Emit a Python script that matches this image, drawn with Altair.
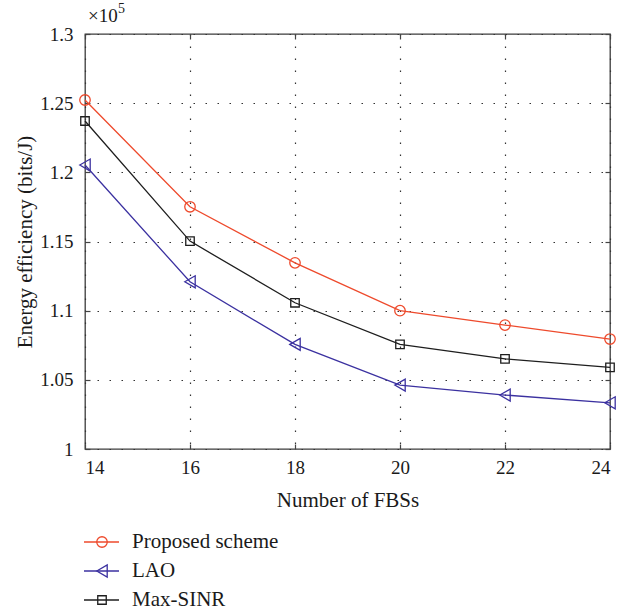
import altair as alt
import pandas as pd

# Energy efficiency (bits/J) versus the number of femto base stations
fbs_counts = [14, 16, 18, 20, 22, 24]
proposed_scheme = [125230, 117510, 113460, 110000, 108960, 107950]
lao = [120530, 112090, 107560, 104620, 103900, 103340]
max_sinr = [123710, 115030, 110570, 107560, 106520, 105900]

series_names = ["Proposed scheme", "LAO", "Max-SINR"]
series_colors = ["#ee4a2c", "#3b31a0", "#1e1e1e"]
series_shapes = ["circle", "triangle-left", "square"]
marker_sizes = [110, 144, 72]

x_ticks = [14, 16, 18, 20, 22, 24]
y_ticks = [100000, 105000, 110000, 115000, 120000, 125000, 130000]
y_exponent = 5

FONT = "'Liberation Serif', 'Times New Roman', Times, serif"
INK = "#1a1a1a"
W, H = 525, 415

rows = []
for name, values in zip(series_names, [proposed_scheme, lao, max_sinr]):
    for n, v in zip(fbs_counts, values):
        rows.append({"fbs": n, "ee": v, "series": name})
df = pd.DataFrame(rows)

color_enc = alt.Color("series:N", scale=alt.Scale(domain=series_names, range=series_colors), legend=None)
shape_enc = alt.Shape("series:N", scale=alt.Scale(domain=series_names, range=series_shapes), legend=None)
size_enc = alt.Size("series:N", scale=alt.Scale(type="ordinal", domain=series_names, range=marker_sizes), legend=None)

x_scale = alt.Scale(domain=[14, 24], nice=False, zero=False)
y_scale = alt.Scale(domain=[100000, 130000], nice=False, zero=False)

inward = {"expr": "-5"}
common_axis = dict(
    domain=False,
    tickSize=inward,
    tickColor="#444444",
    tickWidth=1.2,
    labelFont=FONT,
    labelFontSize=19,
    labelColor=INK,
    titleFont=FONT,
    titleFontSize=21,
    titleFontWeight="normal",
    titleColor=INK,
)
grid_style = dict(grid=True, gridDash=[1.5, 10.5], gridColor="#333333", gridWidth=1.2, gridOpacity=1)

x_bottom = alt.Axis(orient="bottom", values=x_ticks, title="Number of FBSs",
                    labelPadding=14, titlePadding=12, **grid_style, **common_axis)
y_left = alt.Axis(orient="left", values=y_ticks, title="Energy efficiency (bits/J)",
                  labelExpr="datum.value / 100000", labelPadding=17, titlePadding=4,
                  **grid_style, **common_axis)
x_top = alt.Axis(orient="top", values=x_ticks, title=None, labels=False, grid=False, **common_axis)
y_right = alt.Axis(orient="right", values=y_ticks, title=None, labels=False, grid=False, **common_axis)

base = alt.Chart(df)
lines = base.mark_line(strokeWidth=1.3).encode(
    x=alt.X("fbs:Q", scale=x_scale, axis=x_bottom),
    y=alt.Y("ee:Q", scale=y_scale, axis=y_left),
    color=color_enc,
    detail="series:N",
)
markers = base.mark_point(filled=False, strokeWidth=1.3, opacity=1).encode(
    x=alt.X("fbs:Q", scale=x_scale, axis=x_top),
    y=alt.Y("ee:Q", scale=y_scale, axis=y_right),
    color=color_enc,
    shape=shape_enc,
    size=size_enc,
)
plot = alt.layer(lines, markers)

# Legend below the axes: line stub, marker and name for each series
legend_df = pd.DataFrame({"series": series_names})
legend_y = alt.Y("series:N", scale=alt.Scale(type="point", domain=series_names, range=[508, 566], padding=0), axis=None)
leg_base = alt.Chart(legend_df)
leg_lines = leg_base.mark_rule(strokeWidth=1.3).encode(
    x=alt.value(-1), x2=alt.value(34), y=legend_y, color=color_enc)
leg_marks = leg_base.mark_point(filled=False, strokeWidth=1.3, opacity=1).encode(
    x=alt.value(17), y=legend_y, color=color_enc, shape=shape_enc, size=size_enc)
leg_text = leg_base.mark_text(align="left", baseline="middle", font=FONT, fontSize=21, color=INK).encode(
    x=alt.value(47), y=legend_y, text="series:N")
legend = alt.layer(leg_lines, leg_marks, leg_text)

# Axis multiplier above the y axis
mult_df = pd.DataFrame({"base": ["\u00d710"], "exp": [str(y_exponent)]})
mult_base = alt.Chart(mult_df).mark_text(align="left", baseline="alphabetic", font=FONT, fontSize=19, color=INK).encode(
    x=alt.value(3), y=alt.value(-12), text="base:N")
mult_exp = alt.Chart(mult_df).mark_text(align="left", baseline="alphabetic", font=FONT, fontSize=14, color=INK).encode(
    x=alt.value(33), y=alt.value(-21), text="exp:N")

chart = alt.layer(plot, legend, mult_base, mult_exp).resolve_scale(y="independent").properties(
    width=W,
    height=H,
    autosize=alt.AutoSizeParams(type="none"),
    padding={"left": 85, "top": 34, "right": 12, "bottom": 164},
    background="white",
).configure_view(stroke="#3c3c3c", strokeWidth=1.3)

chart.save("out.html", embed_options={"renderer": "svg", "actions": False})
